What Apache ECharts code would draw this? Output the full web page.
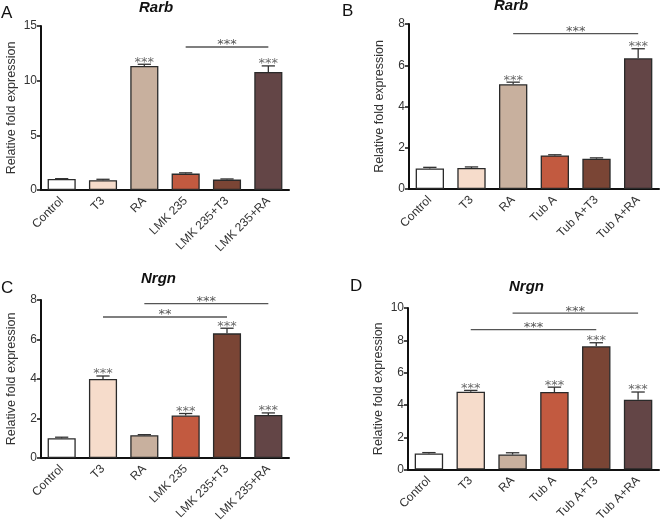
<!DOCTYPE html>
<html><head><meta charset="utf-8">
<script src="https://cdn.jsdelivr.net/npm/echarts@6/dist/echarts.min.js"></script>
<style>html,body{margin:0;padding:0;background:#fff}#c{width:662px;height:524px}</style>
</head><body><div id="c"></div>
<script>
const catsLMK = ['Control','T3','RA','LMK 235','LMK 235+T3','LMK 235+RA'];
const catsTub = ['Control','T3','RA','Tub A','Tub A+T3','Tub A+RA'];
const barColors = ['#ffffff','#f6dccb','#c8b09e','#c25a40','#7a4535','#634546'];

const rarbLMK = [1.0, 0.9, 11.35, 1.5, 0.95, 10.8];
const rarbLMKErr = [0.04, 0.08, 0.15, 0.07, 0.06, 0.55];
const rarbLMKStars = ['', '', '***', '', '', '***'];
const rarbLMKSig = [[3, 5, 13.08, '***']];

const rarbTub = [1.0, 1.02, 5.08, 1.63, 1.47, 6.34];
const rarbTubErr = [0.05, 0.05, 0.1, 0.03, 0.04, 0.46];
const rarbTubStars = ['', '', '***', '', '', '***'];
const rarbTubSig = [[2, 5, 7.53, '***']];

const nrgnLMK = [1.0, 4.0, 1.15, 2.15, 6.31, 2.18];
const nrgnLMKErr = [0.05, 0.15, 0.03, 0.1, 0.26, 0.1];
const nrgnLMKStars = ['', '***', '', '***', '***', '***'];
const nrgnLMKSig = [[2, 5, 7.82, '***'], [1, 4, 7.14, '**']];

const nrgnTub = [1.0, 4.82, 0.93, 4.8, 7.63, 4.32];
const nrgnTubErr = [0.05, 0.08, 0.11, 0.3, 0.22, 0.48];
const nrgnTubStars = ['', '***', '', '***', '***', '***'];
const nrgnTubSig = [[2, 5, 9.68, '***'], [1, 4, 8.66, '***']];

const panels = [
  {cats: catsLMK, vals: rarbLMK, err: rarbLMKErr, stars: rarbLMKStars, sig: rarbLMKSig, max: 15, interval: 5,
   grid: {left: 41, top: 26, width: 248, height: 164}},
  {cats: catsTub, vals: rarbTub, err: rarbTubErr, stars: rarbTubStars, sig: rarbTubSig, max: 8, interval: 2,
   grid: {left: 409, top: 24, width: 250, height: 165}},
  {cats: catsLMK, vals: nrgnLMK, err: nrgnLMKErr, stars: nrgnLMKStars, sig: nrgnLMKSig, max: 8, interval: 2,
   grid: {left: 41, top: 300, width: 248, height: 164}},
  {cats: catsTub, vals: nrgnTub, err: nrgnTubErr, stars: nrgnTubStars, sig: nrgnTubSig, max: 10, interval: 2,
   grid: {left: 408, top: 308, width: 251, height: 166}}
];

const FONT = 'Liberation Sans, Arial, sans-serif';
const STARFONT = '13px DejaVu Sans, sans-serif';
const grids = [], xAxes = [], yAxes = [], series = [];
panels.forEach((p, k) => {
  grids.push(Object.assign({containLabel: false}, p.grid));
  xAxes.push({
    type: 'category', gridIndex: k, data: p.cats,
    axisLine: {lineStyle: {color: '#111', width: 2}},
    axisTick: {alignWithLabel: true, length: 5, lineStyle: {color: '#111', width: 1.5}},
    axisLabel: {rotate: 45, fontSize: 12, color: '#333', fontFamily: FONT, margin: 9, interval: 0}
  });
  yAxes.push({
    type: 'value', gridIndex: k, min: 0, max: p.max, interval: p.interval,
    name: 'Relative fold expression', nameLocation: 'middle', nameGap: 23,
    nameTextStyle: {fontSize: 12.5, color: '#333', fontFamily: FONT},
    axisLine: {show: true, lineStyle: {color: '#111', width: 2}},
    axisTick: {show: true, length: 4, lineStyle: {color: '#111', width: 1.5}},
    axisLabel: {fontSize: 12, color: '#333', fontFamily: FONT, margin: 4},
    splitLine: {show: false}
  });
  series.push({
    type: 'bar', xAxisIndex: k, yAxisIndex: k, barWidth: '68%',
    data: p.vals.map((v, i) => ({value: v, itemStyle: {color: barColors[i]}})),
    itemStyle: {borderColor: '#2a2a2a', borderWidth: 1.3}
  });
  series.push({
    type: 'custom', xAxisIndex: k, yAxisIndex: k, clip: false, z: 5,
    data: p.vals.map((v, i) => [i, v, p.err[i]]),
    encode: {x: 0, y: 1},
    renderItem: function (params, api) {
      const i = api.value(0), v = api.value(1), e = api.value(2);
      const b = api.coord([i, v]), t = api.coord([i, v + e]);
      const hw = api.size([1, 0])[0] * 0.16;
      const st = {stroke: '#333', lineWidth: 1.3};
      const ch = [
        {type: 'line', shape: {x1: b[0], y1: b[1], x2: t[0], y2: t[1]}, style: st},
        {type: 'line', shape: {x1: t[0] - hw, y1: t[1], x2: t[0] + hw, y2: t[1]}, style: st}
      ];
      const s = p.stars[params.dataIndex];
      if (s) ch.push({type: 'text', x: t[0], y: t[1] - 2,
        style: {text: s, fill: '#6a6a6a', font: STARFONT, textAlign: 'center', textVerticalAlign: 'middle'}});
      return {type: 'group', children: ch};
    }
  });
  series.push({
    type: 'custom', xAxisIndex: k, yAxisIndex: k, clip: false, z: 5,
    data: p.sig.map(s => [s[0], s[1], s[2]]),
    encode: {x: [0, 1], y: 2},
    renderItem: function (params, api) {
      const a = api.coord([api.value(0), api.value(2)]);
      const c = api.coord([api.value(1), api.value(2)]);
      const lbl = p.sig[params.dataIndex][3];
      return {type: 'group', children: [
        {type: 'line', shape: {x1: a[0], y1: a[1], x2: c[0], y2: c[1]}, style: {stroke: '#555', lineWidth: 1.3}},
        {type: 'text', x: (a[0] + c[0]) / 2, y: a[1] - 2,
          style: {text: lbl, fill: '#555', font: STARFONT, textAlign: 'center', textVerticalAlign: 'middle'}}
      ]};
    }
  });
});

const titleStyle = {fontSize: 15, fontWeight: 'bold', fontStyle: 'italic', color: '#111', fontFamily: 'Liberation Sans, Arial, sans-serif'};
const letterStyle = {fontSize: 17, fontWeight: 'normal', color: '#111', fontFamily: 'Liberation Sans, Arial, sans-serif'};
const titles = [
  {text: 'A', left: 1, top: 5, textStyle: letterStyle},
  {text: 'B', left: 342, top: 3, textStyle: letterStyle},
  {text: 'C', left: 1, top: 280, textStyle: letterStyle},
  {text: 'D', left: 350, top: 278, textStyle: letterStyle},
  {text: 'Rarb', left: 139, top: 0, textStyle: titleStyle},
  {text: 'Rarb', left: 494, top: -2, textStyle: titleStyle},
  {text: 'Nrgn', left: 141, top: 271, textStyle: titleStyle},
  {text: 'Nrgn', left: 509, top: 279, textStyle: titleStyle}
].map(t => Object.assign({padding: 0}, t));

const chart = echarts.init(document.getElementById('c'));
chart.setOption({
  animation: false,
  backgroundColor: '#fff',
  title: titles,
  grid: grids, xAxis: xAxes, yAxis: yAxes, series: series
});
</script></body></html>
